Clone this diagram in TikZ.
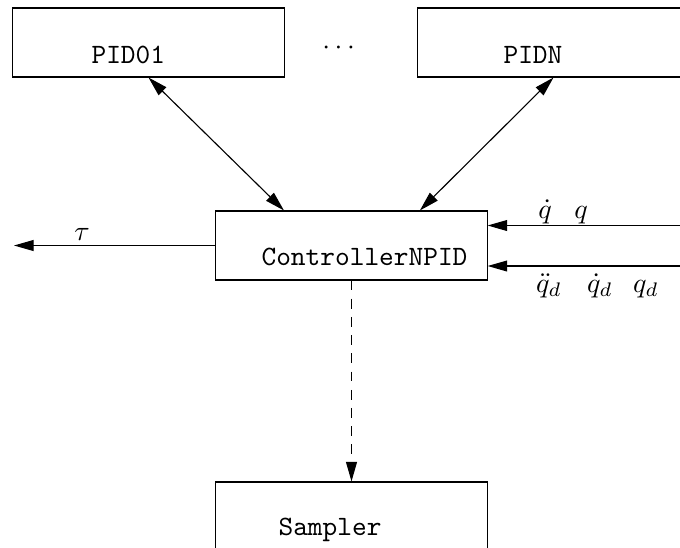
\documentclass[tikz,border=0pt]{standalone}
\usepackage{amsmath,amssymb}
\usepackage{tikz}
\usetikzlibrary{calc,arrows.meta,positioning}
\tikzset{
  blk/.style={draw, line width=0.4pt, minimum width=96.8pt, minimum height=24.6pt, inner sep=0pt},
  ttl/.style={font=\ttfamily, inner sep=0pt, anchor=base west},
  lab/.style={inner sep=0pt, anchor=base},
  sig/.style={draw, line width=0.4pt, -{Triangle[length=7pt,width=3.9pt]}},
  both/.style={draw, line width=0.4pt, {Triangle[length=7pt,width=3.9pt]}-{Triangle[length=7pt,width=3.9pt]}},
  dsh/.style={sig, dash pattern=on 3.5pt off 3pt},
}

\begin{document}
\begin{tikzpicture}[x=0.357pt, y=-0.357pt]
\clip (0,0) rectangle (680,547);

% blocks
\node[blk] (pid1) at (148.5,42.5) {};
\node[blk] (pidn) at (553.5,42.5) {};
\node[blk] (ctrl) at (351.5,245.5) {};
\node[blk] (smp)  at (351.5,516.5) {};

\node[ttl] (pid1txt) at (91,63)  {PID01};
\node[ttl] (pidntxt) at (503,63) {PIDN};
\node[ttl] (ctrltxt) at (261,265) {ControllerNPID};
\node[ttl] (smptxt)  at (278,535) {Sampler};
\node[lab] (dots)    at (341,54) {$\cdots$};

% links to the PIDs
\draw[both] (pid1.south) -- ([xshift=-24.1pt]ctrl.north);
\draw[both] (pidn.south) -- ([xshift=24.4pt]ctrl.north);

% output torque
\coordinate (tauend) at (14,245.5);
\draw[sig] (ctrl.west) -- (tauend);
\node[lab] (tau) at (82,240) {$\tau$};

% measured and desired inputs
\coordinate (qin)  at (680,225.5);
\coordinate (qdin) at (680,266);
\draw[sig] (qin) -- (qin -| ctrl.east);
\draw[sig] (qdin) -- (qdin -| ctrl.east);
\node[lab] (qdot) at (545,218) {$\dot{q}$};
\node[lab] (q)    at (581,218) {$q$};
\node[lab] (qddd) at (549,292) {$\ddot{q}_d$};
\node[lab] (qdd)  at (600,292) {$\dot{q}_d$};
\node[lab] (qd)   at (646,292) {$q_d$};

% sampling
\draw[dsh] (ctrl.south) -- (smp.north);
\end{tikzpicture}
\end{document}
